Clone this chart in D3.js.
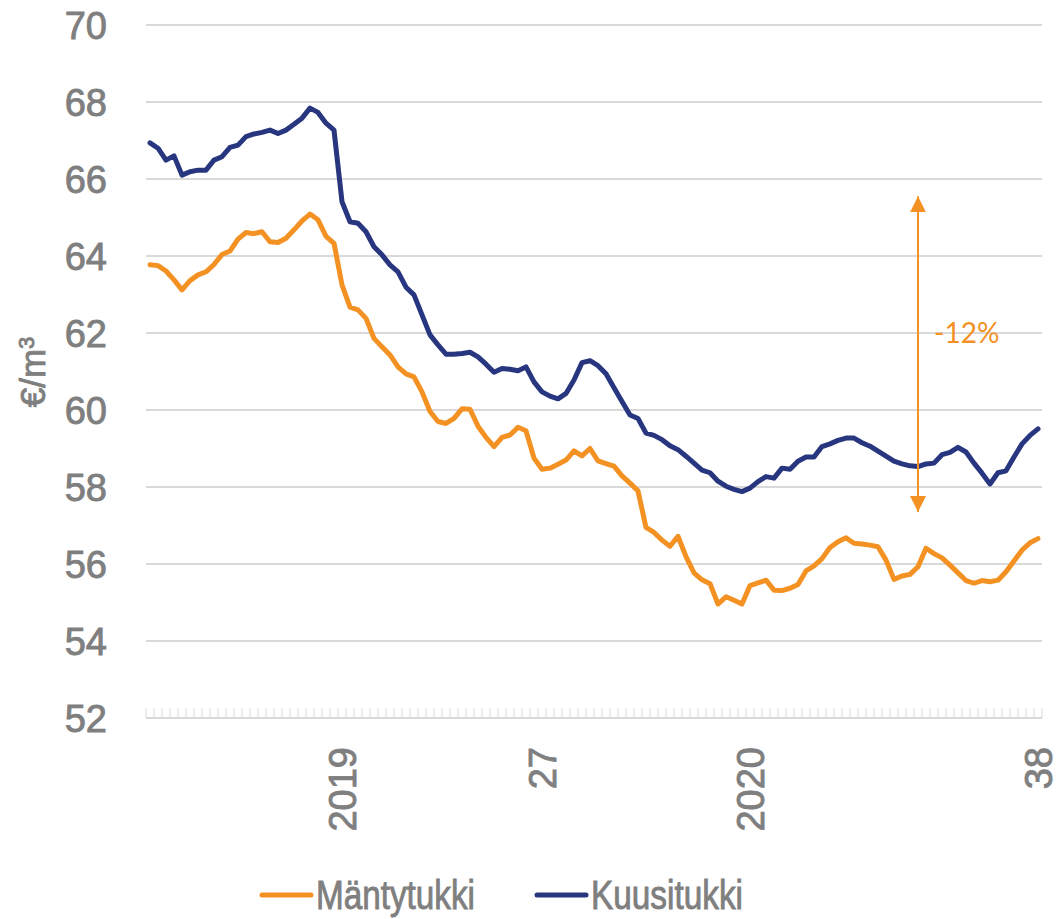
<!DOCTYPE html>
<html>
<head>
<meta charset="utf-8">
<script src="https://cdnjs.cloudflare.com/ajax/libs/d3/7.8.5/d3.min.js"></script>
<style>
    body { margin: 0; background: #fff; }
    .chart text { font-family: "Liberation Sans", Arial, sans-serif; }
</style>
</head>
<body>
<div class="chart"></div>
<script>
// weekly roundwood prices, €/m3 (one value per week, 2018 wk 28 -> 2020 wk 38)
var mantytukki = [
    63.77, 63.75, 63.61, 63.38, 63.12, 63.36, 63.51, 63.59, 63.78, 64.04,
    64.13, 64.44, 64.61, 64.58, 64.63, 64.37, 64.35, 64.46, 64.68, 64.91,
    65.09, 64.94, 64.51, 64.33, 63.25, 62.67, 62.60, 62.38, 61.86, 61.64,
    61.43, 61.12, 60.94, 60.86, 60.47, 59.96, 59.70, 59.65, 59.78, 60.03,
    60.02, 59.58, 59.29, 59.05, 59.29, 59.35, 59.55, 59.46, 58.75, 58.46,
    58.49, 58.59, 58.70, 58.94, 58.81, 59.00, 58.68, 58.61, 58.54, 58.29,
    58.10, 57.90, 56.95, 56.82, 56.62, 56.46, 56.72, 56.19, 55.77, 55.59,
    55.49, 54.96, 55.15, 55.06, 54.96, 55.44, 55.51, 55.58, 55.32, 55.31,
    55.37, 55.47, 55.82, 55.95, 56.14, 56.43, 56.58, 56.68, 56.54, 56.52,
    56.49, 56.45, 56.10, 55.60, 55.69, 55.73, 55.93, 56.41, 56.27, 56.16,
    55.97, 55.77, 55.57, 55.50, 55.57, 55.54, 55.58, 55.80, 56.08, 56.36,
    56.55, 56.66
];

var kuusitukki = [
    66.94, 66.80, 66.49, 66.60, 66.10, 66.19, 66.23, 66.23, 66.49, 66.58,
    66.82, 66.88, 67.10, 67.17, 67.21, 67.27, 67.18, 67.27, 67.42, 67.58,
    67.84, 67.73, 67.45, 67.27, 65.41, 64.89, 64.85, 64.63, 64.24, 64.03,
    63.77, 63.59, 63.19, 62.99, 62.47, 61.95, 61.69, 61.45, 61.45, 61.47,
    61.50, 61.38, 61.19, 60.98, 61.08, 61.06, 61.02, 61.12, 60.73, 60.47,
    60.36, 60.29, 60.43, 60.78, 61.23, 61.28, 61.15, 60.94, 60.58, 60.22,
    59.87, 59.78, 59.40, 59.34, 59.23, 59.07, 58.97, 58.80, 58.62, 58.44,
    58.37, 58.15, 58.02, 57.94, 57.88, 57.97, 58.14, 58.27, 58.23, 58.49,
    58.46, 58.67, 58.78, 58.78, 59.05, 59.12, 59.21, 59.27, 59.27, 59.15,
    59.06, 58.93, 58.80, 58.67, 58.60, 58.55, 58.53, 58.60, 58.62, 58.84,
    58.90, 59.03, 58.91, 58.62, 58.36, 58.08, 58.37, 58.42, 58.78, 59.12,
    59.34, 59.51
];

var seriesNames = ["Mäntytukki", "Kuusitukki"];
var seriesColors = ["#f49123", "#28367f"];

// category labels shown on the x axis (week index -> text)
var tickIdx = [24, 49, 75, 111];
var tickLabels = ["2019", "27", "2020", "38"];

var yTicks = [52, 54, 56, 58, 60, 62, 64, 66, 68, 70];

// -12% arrow annotation
var arrowIdx = 96;
var arrowRange = [57.35, 65.55];
var arrowText = "-12%";


var width = 1058,
    height = 919;

var margin = { top: 25, right: 16, bottom: 201, left: 146 };

var grey = "#7f7f7f";

var svg = d3.select(".chart")
    .append("svg")
    .attr("width", width)
    .attr("height", height);

svg.append("rect")
    .attr("width", width)
    .attr("height", height)
    .style("fill", "#fff");

var weeks = d3.range(mantytukki.length);

var x = d3.scaleBand()
    .domain(weeks)
    .range([margin.left, width - margin.right]);

var y = d3.scaleLinear()
    .domain([52, 70])
    .range([height - margin.bottom, margin.top]);

function cx(i) { return x(i) + x.bandwidth() / 2; }

// slightly heavier grey text, like the original
function greyText(sel) {
    sel.style("fill", grey)
        .style("stroke", grey)
        .style("stroke-width", 0.9);
}

// gridlines
svg.append("g")
    .attr("class", "grid")
    .selectAll("line")
    .data(yTicks)
    .enter().append("line")
    .attr("x1", margin.left)
    .attr("x2", width - margin.right)
    .attr("y1", function(d) { return y(d); })
    .attr("y2", function(d) { return y(d); })
    .style("stroke", "#d9d9d9")
    .style("stroke-width", 2);

// small category ticks on the bottom axis
var boundaries = d3.range(weeks.length + 1);
svg.append("g")
    .attr("class", "minor-ticks")
    .selectAll("line")
    .data(boundaries)
    .enter().append("line")
    .attr("x1", function(d) { return margin.left + d * x.bandwidth(); })
    .attr("x2", function(d) { return margin.left + d * x.bandwidth(); })
    .attr("y1", y(52))
    .attr("y2", y(52) - 10)
    .style("stroke", "#d9d9d9")
    .style("stroke-width", 1);

// y axis labels
svg.append("g")
    .attr("class", "y-labels")
    .selectAll("text")
    .data(yTicks)
    .enter().append("text")
    .attr("x", 107)
    .attr("y", function(d) { return y(d); })
    .attr("dy", "0.36em")
    .attr("text-anchor", "end")
    .style("font-size", "38px")
    .call(greyText)
    .text(function(d) { return d; });

// y axis title
var yTitle = svg.append("text")
    .attr("transform", "translate(45,372) rotate(-90)")
    .attr("text-anchor", "middle")
    .style("font-size", "35px")
    .call(greyText);
yTitle.append("tspan").text("€/m");
yTitle.append("tspan")
    .attr("dy", "-0.5em")
    .style("font-size", "22px")
    .text("3");

// x axis labels (rotated)
svg.append("g")
    .attr("class", "x-labels")
    .selectAll("text")
    .data(tickIdx)
    .enter().append("text")
    .attr("transform", function(d) {
        return "translate(" + cx(d) + "," + (y(52) + 29) + ") rotate(-90)";
    })
    .attr("dy", "0.36em")
    .attr("text-anchor", "end")
    .style("font-size", "38px")
    .call(greyText)
    .text(function(d, i) { return tickLabels[i]; });

// lines
var line = d3.line()
    .x(function(d, i) { return cx(i); })
    .y(function(d) { return y(d); });

svg.selectAll(".series")
    .data([mantytukki, kuusitukki])
    .enter().append("path")
    .attr("class", "series")
    .attr("d", line)
    .style("fill", "none")
    .style("stroke", function(d, i) { return seriesColors[i]; })
    .style("stroke-width", 5)
    .style("stroke-linejoin", "round")
    .style("stroke-linecap", "round");

// annotation arrow
var defs = svg.append("defs");
defs.append("marker")
    .attr("id", "arrowhead")
    .attr("viewBox", "0 0 10 10")
    .attr("refX", 10)
    .attr("refY", 5)
    .attr("markerUnits", "userSpaceOnUse")
    .attr("markerWidth", 16)
    .attr("markerHeight", 16)
    .attr("orient", "auto-start-reverse")
    .append("path")
    .attr("d", "M0,0 L10,5 L0,10 Z")
    .style("fill", seriesColors[0]);

svg.append("line")
    .attr("x1", cx(arrowIdx))
    .attr("x2", cx(arrowIdx))
    .attr("y1", y(arrowRange[0]))
    .attr("y2", y(arrowRange[1]))
    .attr("marker-start", "url(#arrowhead)")
    .attr("marker-end", "url(#arrowhead)")
    .style("stroke", seriesColors[0])
    .style("stroke-width", 2);

svg.append("text")
    .attr("x", cx(arrowIdx) + 16)
    .attr("y", y(62))
    .attr("dy", "0.36em")
    .style("font-family", "Lato, 'Open Sans', sans-serif")
    .style("font-size", "28px")
    .style("fill", seriesColors[0])
    .text(arrowText);

// legend
var legendX = [260, 535];
var legendW = [159, 152];
var legend = svg.append("g")
    .attr("class", "legend")
    .selectAll("g")
    .data(seriesNames)
    .enter().append("g")
    .attr("transform", function(d, i) { return "translate(" + legendX[i] + ",895)"; });

legend.append("line")
    .attr("x1", 2)
    .attr("x2", 51)
    .style("stroke", function(d, i) { return seriesColors[i]; })
    .style("stroke-width", 5)
    .style("stroke-linecap", "round");

legend.append("text")
    .attr("x", 56)
    .attr("dy", "0.36em")
    .attr("textLength", function(d, i) { return legendW[i]; })
    .attr("lengthAdjust", "spacingAndGlyphs")
    .style("font-size", "40px")
    .call(greyText)
    .text(function(d) { return d; });
</script>
</body>
</html>
